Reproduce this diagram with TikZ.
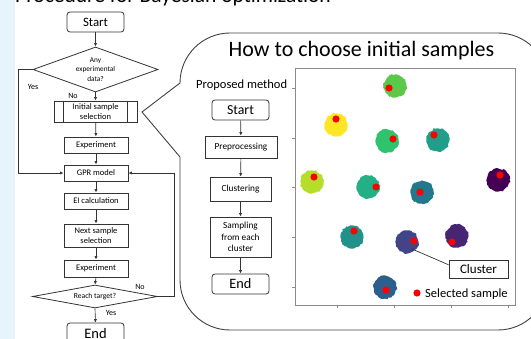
\documentclass[tikz,border=0pt]{standalone}
\usepackage{fontspec}
\setmainfont{Carlito}
\usetikzlibrary{arrows.meta,shapes.geometric,decorations.pathmorphing}

\definecolor{panelblue}{HTML}{E8F4FC}
\definecolor{lineclr}{HTML}{333333}
\definecolor{axisclr}{HTML}{8A8A8A}
\definecolor{cA}{HTML}{5CC84A}
\definecolor{cB}{HTML}{FDE725}
\definecolor{cC}{HTML}{2EC36C}
\definecolor{cD}{HTML}{1F9E89}
\definecolor{cE}{HTML}{B5DE2B}
\definecolor{cF}{HTML}{440154}
\definecolor{cG}{HTML}{22B084}
\definecolor{cH}{HTML}{23788E}
\definecolor{cI}{HTML}{21918C}
\definecolor{cJ}{HTML}{414487}
\definecolor{cK}{HTML}{482475}
\definecolor{cL}{HTML}{2D5F8E}

\newcommand{\fsz}[1]{\fontsize{#1}{#1}\selectfont}

\tikzset{
  box/.style={draw=lineclr, line width=0.8pt, fill=white, inner sep=0pt,
    align=center, font=\fontsize{8.5}{10}\selectfont},
  term/.style={box, rounded corners=3pt},
  decision/.style={box, diamond, font=\fontsize{7.3}{9.6}\selectfont},
  arr/.style={-{Latex[length=3.5pt,width=3.2pt]}, line width=0.65pt, draw=lineclr},
  lbl/.style={inner sep=0pt, font=\fsz{8}},
  blob/.style={decorate, decoration={random steps, segment length=2pt, amplitude=0.8pt}},
}

\begin{document}
\begin{tikzpicture}[x=1pt,y=1pt]
\useasboundingbox (0,0) rectangle (531,-339);
\clip (0,0) rectangle (531,-339);

% left margin strip and cut-off heading
\fill[panelblue] (0,0) rectangle (15,-339);
\node[anchor=base west, inner sep=0pt, font=\fsz{21.5}] (maintitle) at (15,-3)
  {Procedure for Bayesian optimization};

% ---------- main optimisation loop ----------
\node[term, minimum width=57, minimum height=20, font=\fsz{12.8}] (startL) at (95.5,-22) {Start};
\node[decision, aspect=2.78, minimum width=125, minimum height=45] (anydata) at (95.5,-69.5)
  {Any\\experimental\\data?};
\node[box, minimum width=83, minimum height=21] (initsel) at (95.5,-111.5)
  {Initial sample\\selection};
\draw[line width=0.8pt, draw=lineclr]
  ([xshift=10pt]initsel.north west) -- ([xshift=10pt]initsel.south west)
  ([xshift=-10pt]initsel.north east) -- ([xshift=-10pt]initsel.south east);
\node[box, minimum width=64, minimum height=16] (exp1) at (96,-145) {Experiment};
\node[box, minimum width=64, minimum height=16] (gpr) at (96,-173) {GPR model};
\node[box, minimum width=64, minimum height=16] (ei) at (96,-201) {EI calculation};
\node[box, minimum width=64, minimum height=23] (nextsel) at (96,-235.5) {Next sample\\selection};
\node[box, minimum width=64, minimum height=17] (exp2) at (96,-268.5) {Experiment};
\node[decision, aspect=5.4, minimum width=125, minimum height=23, font=\fsz{7.6}] (reach) at (95,-296.5)
  {Reach target?};
\node[term, minimum width=57, minimum height=22, font=\fsz{14.5}] (endL) at (95.5,-334) {End};

\draw[arr] (startL) -- (anydata);
\draw[arr] (anydata.south) -- (initsel.north);
\draw[arr] (initsel) -- (exp1);
\draw[arr] (exp1) -- (gpr);
\draw[arr] (gpr) -- (ei);
\draw[arr] (ei) -- (nextsel);
\draw[arr] (nextsel) -- (exp2);
\draw[arr] (exp2.south) -- (reach.north);
\draw[arr] (reach.south) -- (endL.north);
\draw[arr] (anydata.west) -- ++(-14,0) |- (gpr.west);
\draw[arr] (reach.east) -- ++(16,0) |- (gpr.east);

\node[lbl] (yesA) at (33,-87) {Yes};
\node[lbl] (noA) at (73,-96) {No};
\node[lbl] (noB) at (140,-287) {No};
\node[lbl] (yesB) at (111,-312.5) {Yes};

% ---------- callout bubble ----------
\draw[line width=0.9pt, draw=black!75]
  (180,-83) -- (142,-112) -- (180,-157) -- (180,-280)
  arc[start angle=180, end angle=270, radius=50pt] -- (498,-330)
  arc[start angle=270, end angle=360, radius=50pt] -- (548,-83)
  arc[start angle=0, end angle=90, radius=50pt] -- (230,-33)
  arc[start angle=90, end angle=180, radius=50pt] -- cycle;

\node[anchor=base, inner sep=0pt, font=\fsz{22}] (howtitle) at (361.5,-57)
  {How to choose initial samples};
\node[anchor=base west, inner sep=0pt, font=\fsz{12.5}] (proposed) at (196,-89) {Proposed method};

% ---------- proposed method ----------
\node[term, minimum width=57, minimum height=20, font=\fsz{13.8}] (startR) at (240.5,-110) {Start};
\node[box, minimum width=72, minimum height=22, font=\fsz{9.3}] (prep) at (241,-147) {Preprocessing};
\node[box, minimum width=61, minimum height=24, font=\fsz{9.3}] (clust) at (240.5,-189) {Clustering};
\node[box, minimum width=61, minimum height=40, font=\fontsize{9.3}{11.5}\selectfont] (samp) at (240.5,-237)
  {Sampling\\from each\\cluster};
\node[term, minimum width=57, minimum height=20, font=\fsz{14.3}] (endR) at (240.5,-284) {End};

\draw[arr] (startR) -- (prep);
\draw[arr] (prep) -- (clust);
\draw[arr] (clust) -- (samp);
\draw[arr] (samp) -- (endR);

% ---------- clustered data plot ----------
\draw[axisclr, line width=0.8pt] (295,-68) rectangle (515,-305);
\foreach \ty in {88,138,187,237,287}
  \draw[axisclr, line width=0.7pt] (295,-\ty) -- (292,-\ty);
\foreach \tx in {337,394,451,508}
  \draw[axisclr, line width=0.7pt] (\tx,-305) -- (\tx,-308);

\foreach \cx/\cy/\col/\rx/\ry in {
    395/86/cA/389/88, 336/125/cB/336/119, 387/141/cC/393/139,
    438/140/cD/434/135, 312/182/cE/314/177, 498/180/cF/500/175,
    368/187/cG/376/187, 422/192/cH/420/192, 352/237/cI/354/231,
    407/242/cJ/414/241, 457/236/cK/452/242, 385/287/cL/386/290}{
  \fill[\col, blob] (\cx,-\cy) circle[radius=11.5];
  \fill[red] (\rx,-\ry) circle[radius=3.6];
}

\node[draw=lineclr, line width=0.8pt, fill=white, inner sep=0pt, minimum width=59, minimum height=18,
  font=\fsz{13}] (clusterbox) at (478.5,-269) {Cluster};
\coordinate (blobedge) at (412,-249);
\draw[line width=0.7pt, draw=lineclr] (blobedge) -- (clusterbox.172);

\fill[red] (417,-293) circle[radius=3.6];
\node[anchor=base west, inner sep=0pt, font=\fsz{12.5}] (legendtext) at (425,-297.5) {Selected sample};
\end{tikzpicture}
\end{document}
